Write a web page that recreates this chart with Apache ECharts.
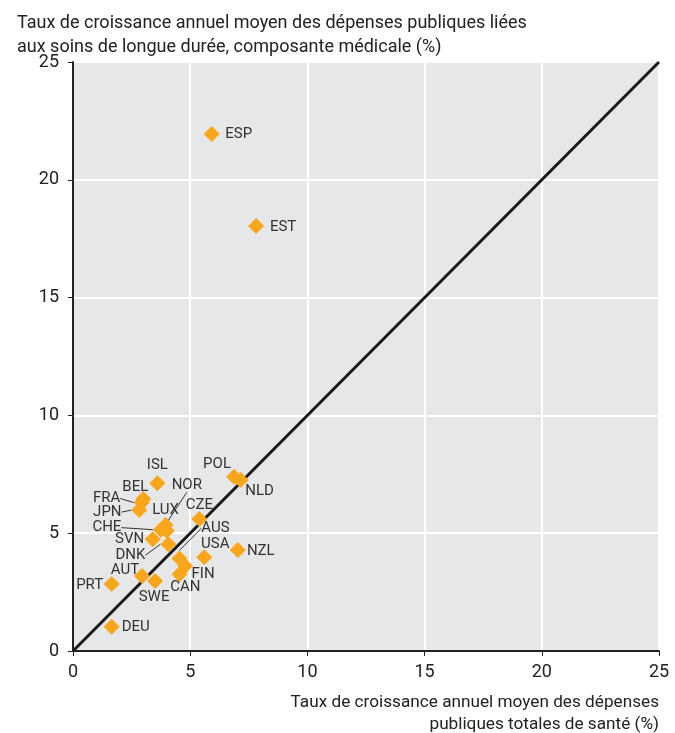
<!DOCTYPE html>
<html>
<head>
<meta charset="utf-8">
<script src="https://cdn.jsdelivr.net/npm/echarts@6/dist/echarts.min.js"></script>
<style>html,body{margin:0;padding:0;background:#fff;}#c{width:675px;height:733px;}</style>
</head>
<body>
<div id="c"></div>
<script>
// ---- Data ----
const countries = ['ESP','EST','ISL','POL','NLD','BEL','FRA','JPN','LUX','NOR','CHE','SVN','DNK','CZE','AUS','USA','NZL','FIN','CAN','AUT','SWE','PRT','DEU'];
const totalHealthGrowth = [5.92,7.81,3.60,6.87,7.15,3.00,2.93,2.83,3.95,4.00,3.75,3.40,4.07,5.39,4.54,5.60,7.03,4.78,4.54,2.94,3.50,1.65,1.65];
const ltcMedicalGrowth  = [21.94,18.04,7.12,7.40,7.26,6.45,6.30,5.98,5.35,5.10,5.15,4.74,4.53,5.60,3.93,3.98,4.29,3.61,3.26,3.18,2.97,2.84,1.03];
const axisTicks = [0,5,10,15,20,25];
const yTitle = 'Taux de croissance annuel moyen des dépenses publiques liées\naux soins de longue durée, composante médicale (%)';
const xTitleLines = ['Taux de croissance annuel moyen des dépenses', 'publiques totales de santé (%)'];

// ---- Label placement (styling only) ----
const labelOffsets = {
  ESP:[27,0], EST:[27,1], ISL:[0,-18], POL:[-17,-12], NLD:[19,11], BEL:[-8,-12],
  FRA:[-35,-4], JPN:[-32,2], LUX:[0,-15], NOR:[20,-46], CHE:[-54,-2], SVN:[-23,0],
  DNK:[-38,11], CZE:[0,-14], AUS:[36,-30], USA:[11,-13], NZL:[23,1], FIN:[18,8],
  CAN:[6,13], AUT:[-17,-6], SWE:[-1,16], PRT:[-22,1], DEU:[24,1]
};
const leaders = ['FRA','JPN','NOR','CHE','DNK','AUS'];

const FONT = "Roboto,'Liberation Sans',sans-serif";
const scatterData = countries.map((c,i)=>{
  const d = {name:c, value:[totalHealthGrowth[i], ltcMedicalGrowth[i]]};
  if (leaders.includes(c)) d.labelLine = {show:true};
  return d;
});

const chart = echarts.init(document.getElementById('c'), null, {renderer:'canvas'});
chart.setOption({
  animation:false,
  backgroundColor:'#ffffff',
  title:[
    {text:yTitle, left:12, top:6, textStyle:{fontFamily:FONT, fontSize:18, fontWeight:'normal', color:'#222', lineHeight:24}}
  ],
  graphic:xTitleLines.map((t,i)=>({
    type:'text', x:659, y:703 + i*22,
    style:{text:t, fill:'#222', font:"normal 17.2px Roboto, 'Liberation Sans', sans-serif", align:'right', verticalAlign:'middle'}
  })),
  grid:{left:73, right:16, top:62, bottom:82, show:true, backgroundColor:'#e6e7e9', borderWidth:0},
  xAxis:{
    type:'value', min:axisTicks[0], max:axisTicks[axisTicks.length-1], interval:5,
    axisLine:{show:true, onZero:false, lineStyle:{color:'#222', width:2}},
    axisTick:{show:true, length:5, lineStyle:{color:'#222'}},
    splitLine:{show:true, lineStyle:{color:'#ffffff', width:2}},
    axisLabel:{fontFamily:FONT, fontSize:18, color:'#222', margin:12}
  },
  yAxis:{
    type:'value', min:axisTicks[0], max:axisTicks[axisTicks.length-1], interval:5,
    axisLine:{show:true, onZero:false, lineStyle:{color:'#222', width:2}},
    axisTick:{show:true, length:5, lineStyle:{color:'#222'}},
    splitLine:{show:true, lineStyle:{color:'#ffffff', width:2}},
    axisLabel:{fontFamily:FONT, fontSize:18, color:'#222', margin:14}
  },
  series:[
    {
      type:'line', data:[[axisTicks[0],axisTicks[0]],[axisTicks[5],axisTicks[5]]],
      symbol:'none', silent:true, z:2,
      lineStyle:{color:'#1a1a1a', width:3}
    },
    {
      type:'scatter', data:scatterData, symbol:'diamond', symbolSize:16, z:3,
      itemStyle:{color:'#f9a61a', opacity:1},
      label:{show:true, position:'inside', formatter:'{b}', color:'#333', fontFamily:FONT, fontSize:15},
      labelLine:{show:false, lineStyle:{color:'#333', width:1}, smooth:false},
      labelLayout:function(p){
        const o = labelOffsets[countries[p.dataIndex]] || [0,0];
        return {dx:o[0], dy:o[1]};
      }
    }
  ]
});
</script>
</body>
</html>
